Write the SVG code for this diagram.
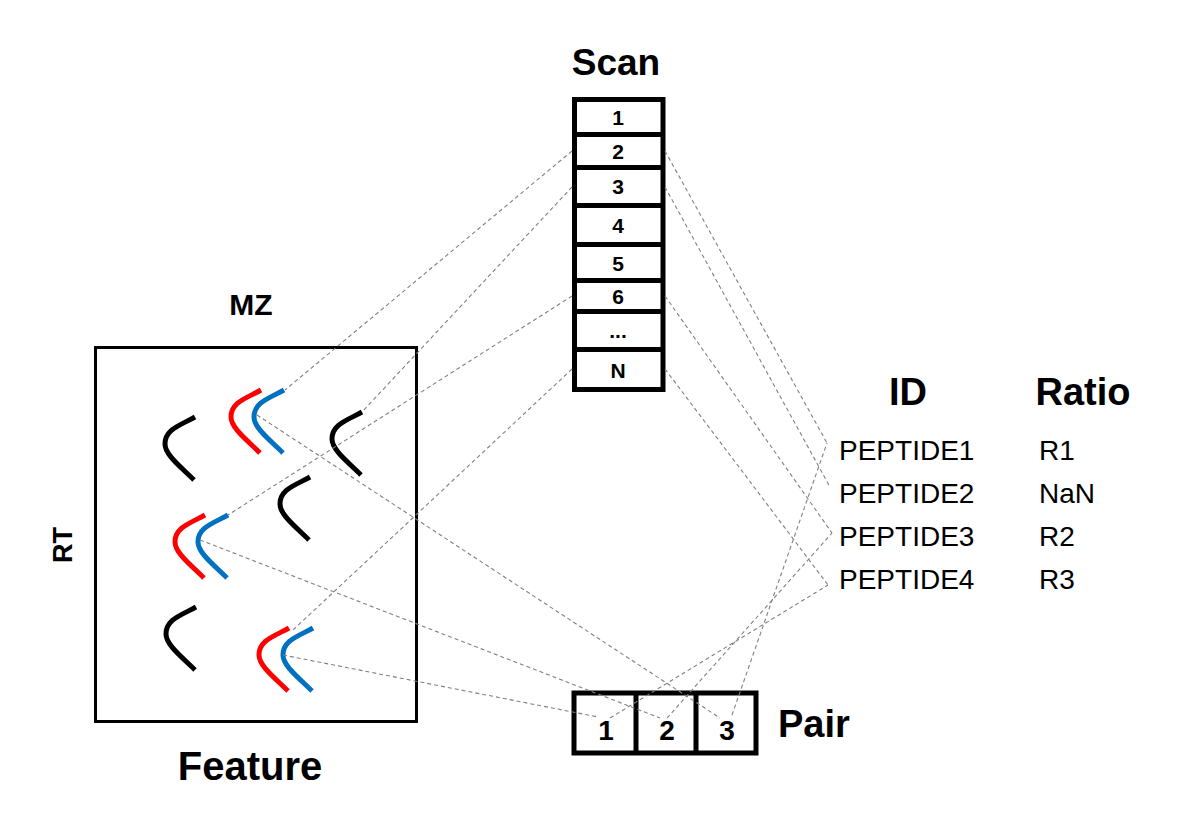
<svg xmlns="http://www.w3.org/2000/svg" xmlns:xlink="http://www.w3.org/1999/xlink" width="1182" height="823" viewBox="0 0 1182 823">
<style>
.t{font-family:"Liberation Sans",Arial,sans-serif;fill:#000}
.b{font-weight:bold}
.box{fill:#fff;stroke:#000;stroke-width:5}
.div{stroke:#000;stroke-width:5}
.dash{fill:none;stroke:#808080;stroke-width:1.1;stroke-dasharray:4,3}
.pk{fill:none;stroke-width:5;stroke-linecap:butt}
</style>
<defs>
<path id="chev" d="M0,0 C-14,8 -30,12 -30,27 C-30,38 -14,50 -1,63"/>
</defs>
<rect width="1182" height="823" fill="#fff"/>

<g id="feature">
<rect x="95.5" y="347.5" width="321" height="374" fill="none" stroke="#000" stroke-width="3"/>
<text class="t b" x="251" y="315" font-size="30" text-anchor="middle">MZ</text>
<text class="t b" x="0" y="0" font-size="27" text-anchor="middle" transform="translate(72,545) rotate(-90)">RT</text>
<text class="t b" x="250" y="780" font-size="40" text-anchor="middle">Feature</text>
<g class="pk" stroke="#000">
<use xlink:href="#chev" x="195" y="417"/>
<use xlink:href="#chev" x="362" y="412"/>
<use xlink:href="#chev" x="310" y="477"/>
<use xlink:href="#chev" x="196" y="607"/>
</g>
<g class="pk" stroke="#ff0000">
<use xlink:href="#chev" x="261" y="390"/>
<use xlink:href="#chev" x="205" y="515"/>
<use xlink:href="#chev" x="289" y="628"/>
</g>
<g class="pk" stroke="#0070c0">
<use xlink:href="#chev" x="284" y="390"/>
<use xlink:href="#chev" x="228" y="515"/>
<use xlink:href="#chev" x="313" y="628"/>
</g>
</g>

<g id="scan">
<text class="t b" x="616" y="75" font-size="37" text-anchor="middle">Scan</text>
<rect class="box" x="574.5" y="99.5" width="88.5" height="290"/>
<line class="div" x1="574.5" y1="134.5" x2="663" y2="134.5"/>
<line class="div" x1="574.5" y1="167.5" x2="663" y2="167.5"/>
<line class="div" x1="574.5" y1="205.5" x2="663" y2="205.5"/>
<line class="div" x1="574.5" y1="244.5" x2="663" y2="244.5"/>
<line class="div" x1="574.5" y1="280.5" x2="663" y2="280.5"/>
<line class="div" x1="574.5" y1="311.5" x2="663" y2="311.5"/>
<line class="div" x1="574.5" y1="349.5" x2="663" y2="349.5"/>
<g class="t b" font-size="21" text-anchor="middle">
<text x="618" y="125">1</text>
<text x="618" y="159">2</text>
<text x="618" y="194">3</text>
<text x="618" y="233">4</text>
<text x="618" y="271">5</text>
<text x="618" y="304">6</text>
<text x="618" y="338">...</text>
<text x="618" y="378">N</text>
</g>
</g>

<g id="pair">
<rect class="box" x="574" y="693" width="182" height="60"/>
<line class="div" x1="636" y1="693" x2="636" y2="753"/>
<line class="div" x1="696" y1="693" x2="696" y2="753"/>
<g class="t b" font-size="28" text-anchor="middle">
<text x="606" y="740">1</text>
<text x="667" y="740">2</text>
<text x="727" y="740">3</text>
</g>
<text class="t b" x="778" y="737" font-size="38">Pair</text>
</g>

<g id="table">
<text class="t b" x="908" y="405" font-size="38" text-anchor="middle">ID</text>
<text class="t b" x="1083" y="405" font-size="38" text-anchor="middle">Ratio</text>
<g class="t" font-size="28">
<text x="839" y="460">PEPTIDE1</text>
<text x="839" y="503">PEPTIDE2</text>
<text x="839" y="546">PEPTIDE3</text>
<text x="839" y="589">PEPTIDE4</text>
<text x="1039" y="460">R1</text>
<text x="1039" y="503">NaN</text>
<text x="1039" y="546">R2</text>
<text x="1039" y="589">R3</text>
</g>
</g>

<g id="connectors" class="dash">
<line x1="572" y1="151" x2="285" y2="390"/>
<line x1="572" y1="187" x2="362" y2="412"/>
<line x1="572" y1="296" x2="228" y2="515"/>
<line x1="572" y1="369" x2="293" y2="630"/>
<line x1="665" y1="151" x2="827" y2="443"/>
<line x1="665" y1="187" x2="830" y2="487"/>
<line x1="665" y1="296" x2="832" y2="533"/>
<line x1="665" y1="369" x2="828" y2="585"/>
<line x1="257" y1="415" x2="720" y2="718"/>
<line x1="200" y1="540" x2="660" y2="718"/>
<line x1="283" y1="655" x2="598" y2="717"/>
<line x1="732" y1="715" x2="827" y2="443"/>
<line x1="667" y1="718" x2="832" y2="533"/>
<line x1="610" y1="718" x2="828" y2="585"/>
</g>
</svg>
